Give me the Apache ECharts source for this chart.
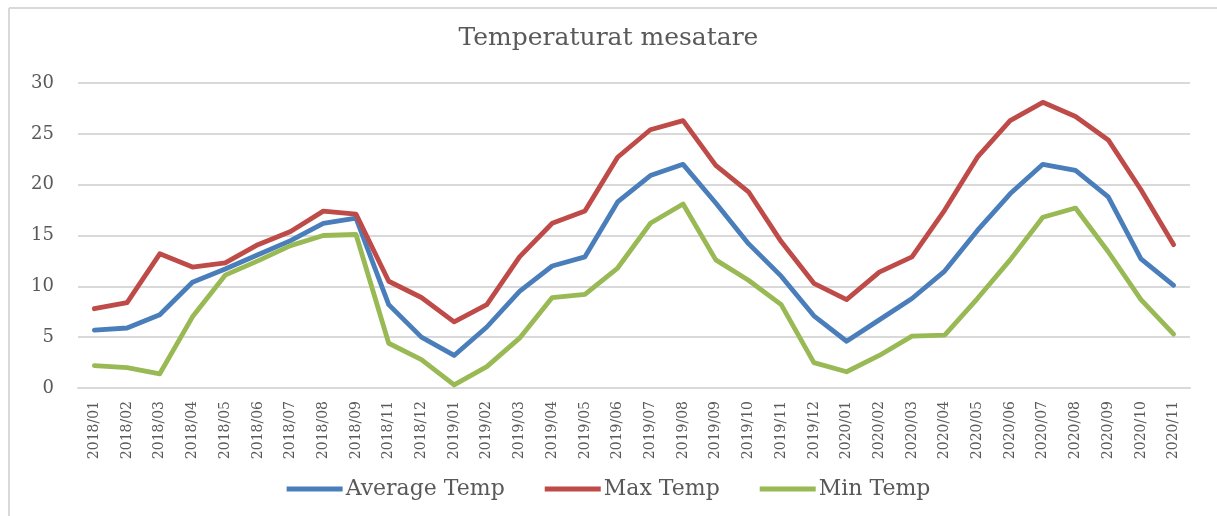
<!DOCTYPE html>
<html>
<head>
<meta charset="utf-8">
<script src="https://cdn.jsdelivr.net/npm/echarts@6/dist/echarts.min.js"></script>
<style>
html,body{margin:0;padding:0;background:#fff;}
#main{width:1217px;height:516px;}
</style>
</head>
<body>
<div id="main"></div>
<script>
const categories = ['2018/01','2018/02','2018/03','2018/04','2018/05','2018/06','2018/07','2018/08','2018/09','2018/11','2018/12',
  '2019/01','2019/02','2019/03','2019/04','2019/05','2019/06','2019/07','2019/08','2019/09','2019/10','2019/11','2019/12',
  '2020/01','2020/02','2020/03','2020/04','2020/05','2020/06','2020/07','2020/08','2020/09','2020/10','2020/11'];
const avgTemp = [5.7,5.9,7.2,10.4,11.7,13.1,14.5,16.2,16.7,8.2,5.0,3.2,6.0,9.5,12.0,12.9,18.3,20.9,22.0,18.2,14.2,11.0,7.1,4.6,6.7,8.8,11.5,15.5,19.1,22.0,21.4,18.8,12.7,10.1];
const maxTemp = [7.8,8.4,13.2,11.9,12.3,14.1,15.4,17.4,17.1,10.5,8.9,6.5,8.2,12.9,16.2,17.4,22.7,25.4,26.3,21.9,19.3,14.4,10.3,8.7,11.4,12.9,17.5,22.7,26.3,28.1,26.7,24.4,19.5,14.1];
const minTemp = [2.2,2.0,1.4,7.0,11.1,12.5,14.0,15.0,15.1,4.4,2.8,0.3,2.1,4.9,8.9,9.2,11.8,16.2,18.1,12.6,10.6,8.2,2.5,1.6,3.2,5.1,5.2,8.8,12.6,16.8,17.7,13.4,8.7,5.3];
const seriesNames = ['Average Temp','Max Temp','Min Temp'];
const titleText = 'Temperaturat mesatare';

const FONT = 'DejaVu Serif';
const TXT = '#595959';
const colors = ['#4a7ebb','#be4b48','#98b954'];

const chart = echarts.init(document.getElementById('main'));
const mk = (name, data, color) => ({
  name, type:'line', data, symbol:'none', smooth:false,
  lineStyle:{width:4.8, color, cap:'round', join:'round'},
  itemStyle:{color}
});
chart.setOption({
  animation:false,
  backgroundColor:'#fff',
  color:colors,
  title:{text:titleText, left:'center', top:21,
    textStyle:{fontFamily:FONT, fontSize:25, fontWeight:'normal', color:TXT}},
  graphic:[
    {type:'line', shape:{x1:9,y1:8,x2:1217,y2:8}, style:{stroke:'#d9d9d9', lineWidth:2}},
    {type:'line', shape:{x1:9,y1:8,x2:9,y2:516}, style:{stroke:'#d9d9d9', lineWidth:2}}
  ],
  legend:{bottom:11, left:'center', itemWidth:56, itemHeight:5, itemGap:40,
    icon:'rect',
    textStyle:{fontFamily:FONT, fontSize:22, color:TXT, padding:[0,0,0,-2]},
    data:seriesNames},
  grid:{left:78, right:27, top:83, bottom:128, containLabel:false},
  xAxis:{type:'category', data:categories, boundaryGap:true,
    axisLine:{show:true, lineStyle:{color:'#d9d9d9', width:2}},
    axisTick:{show:false},
    axisLabel:{rotate:90, margin:13, fontFamily:FONT, fontSize:14, color:TXT, interval:0}},
  yAxis:{type:'value', min:0, max:30, interval:5,
    axisLine:{show:false}, axisTick:{show:false},
    splitLine:{lineStyle:{color:'#d9d9d9', width:2}},
    axisLabel:{margin:24, fontFamily:FONT, fontSize:18, color:TXT}},
  series:[mk(seriesNames[0], avgTemp, colors[0]), mk(seriesNames[1], maxTemp, colors[1]), mk(seriesNames[2], minTemp, colors[2])]
});
</script>
</body>
</html>
